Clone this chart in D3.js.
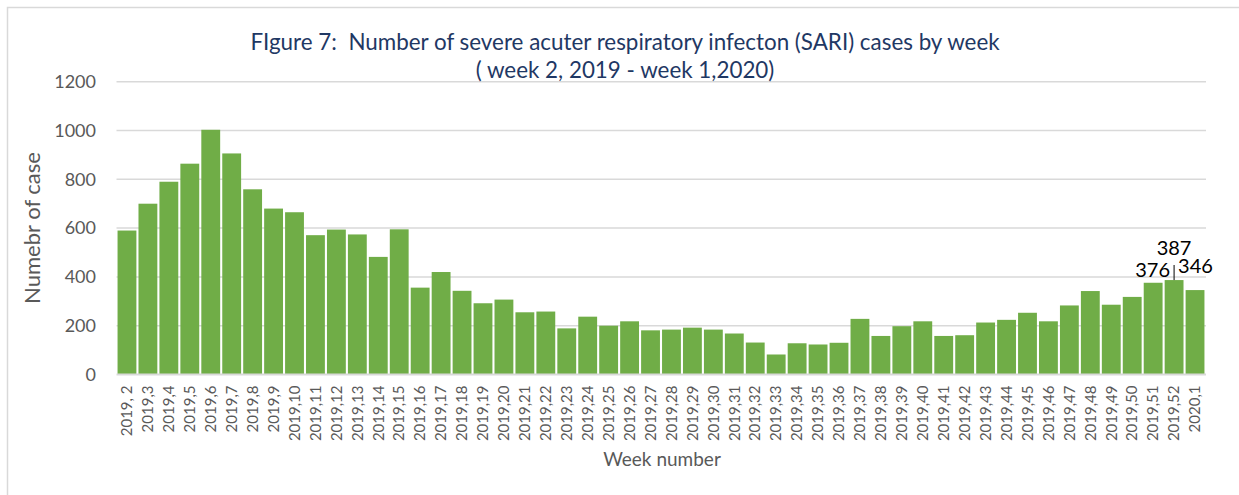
<!DOCTYPE html>
<html>
<head>
<meta charset="utf-8">
<script src="https://cdn.jsdelivr.net/npm/d3@7"></script>
<style>
    body { margin: 0; background: #fff; }
    text { font-family: Lato, "Open Sans", sans-serif; }
</style>
</head>
<body>
<script>
// week labels as printed under the bars
let weeks = ['2019, 2', '2019,3', '2019,4', '2019,5', '2019,6', '2019,7', '2019,8', '2019,9',
    '2019,10', '2019,11', '2019,12', '2019,13', '2019,14', '2019,15', '2019,16', '2019,17',
    '2019,18', '2019,19', '2019,20', '2019,21', '2019,22', '2019,23', '2019,24', '2019,25',
    '2019,26', '2019,27', '2019,28', '2019,29', '2019,30', '2019,31', '2019,32', '2019,33',
    '2019,34', '2019,35', '2019,36', '2019,37', '2019,38', '2019,39', '2019,40', '2019,41',
    '2019,42', '2019,43', '2019,44', '2019,45', '2019,46', '2019,47', '2019,48', '2019,49',
    '2019,50', '2019,51', '2019,52', '2020,1']
let cases = [590, 700, 790, 864, 1003, 906, 759, 680,
    665, 571, 594, 574, 482, 595, 356, 420,
    343, 292, 307, 255, 258, 189, 237, 200,
    218, 181, 184, 192, 184, 168, 131, 82,
    128, 123, 130, 228, 158, 198, 218, 158,
    161, 213, 224, 253, 218, 283, 342, 286,
    318, 376, 387, 346]
let yTicks = [0, 200, 400, 600, 800, 1000, 1200]
let labelled = ['2019,51', '2019,52', '2020,1']

{
    let width = 1239
    let height = 495
    let svg = d3.select('body').append('svg')
        .attr('width', width)
        .attr('height', height)

    // outer frame (right / bottom fall outside the picture)
    svg.append('rect')
        .attr('x', 7.5).attr('y', 7.5)
        .attr('width', 1260).attr('height', 520)
        .attr('fill', 'none')
        .attr('stroke', '#d9d9d9')
        .attr('stroke-width', 1.5)

    let x = d3.scaleBand()
        .domain(weeks)
        .range([116.5, 1205.5])
        .paddingInner(0.1)
        .paddingOuter(0.05)
    let y = d3.scaleLinear()
        .domain([0, 1200])
        .range([374.5, 81.7])

    // grid
    svg.append('g').selectAll('line').data(yTicks.filter(d => d > 0))
        .enter()
        .append('line')
        .attr('x1', 116.5).attr('x2', 1206)
        .attr('y1', d => y(d)).attr('y2', d => y(d))
        .attr('stroke', '#d9d9d9')
        .attr('stroke-width', 1.5)

    // bars
    svg.append('g').selectAll('rect').data(cases)
        .enter()
        .append('rect')
        .attr('x', (d, i) => x(weeks[i]))
        .attr('y', d => y(d))
        .attr('width', x.bandwidth())
        .attr('height', d => y(0) - y(d))
        .attr('fill', '#70ad47')

    // baseline
    svg.append('line')
        .attr('x1', 116.5).attr('x2', 1206)
        .attr('y1', y(0)).attr('y2', y(0))
        .attr('stroke', '#d9d9d9')
        .attr('stroke-width', 2)

    // y axis
    let yAxis = svg.append('g')
        .attr('transform', 'translate(108,0)')
        .call(d3.axisLeft(y).tickValues(yTicks).tickFormat(d3.format('d')).tickSize(0).tickPadding(12))
    yAxis.select('.domain').remove()
    yAxis.selectAll('text')
        .attr('fill', '#595959')
        .style('font-size', '18px')
        .style('font-family', 'Lato, sans-serif')

    // x axis
    let xAxis = svg.append('g')
        .attr('transform', 'translate(0,' + y(0) + ')')
        .call(d3.axisBottom(x).tickSize(0))
    xAxis.select('.domain').remove()
    xAxis.selectAll('text')
        .attr('fill', '#595959')
        .style('font-size', '15px')
        .style('font-family', 'Lato, sans-serif')
        .attr('text-anchor', 'end')
        .attr('transform', 'rotate(-90)')
        .attr('x', -11)
        .attr('y', 0)
        .attr('dy', '0.35em')

    // data labels on the last three bars
    let lab = svg.append('g')
        .style('font-size', '20px')
        .attr('fill', '#000')
    let c52 = x('2019,52') + x.bandwidth() / 2
    lab.append('text')
        .attr('x', c52 - 4).attr('y', y(cases[weeks.indexOf(labelled[0])]) - 6)
        .attr('text-anchor', 'end')
        .text(cases[weeks.indexOf(labelled[0])])
    lab.append('text')
        .attr('x', c52).attr('y', 255)
        .attr('text-anchor', 'middle')
        .text(cases[weeks.indexOf(labelled[1])])
    lab.append('text')
        .attr('x', c52 + 4).attr('y', y(cases[weeks.indexOf(labelled[2])]) - 17)
        .attr('text-anchor', 'start')
        .text(cases[weeks.indexOf(labelled[2])])
    svg.append('line')
        .attr('x1', c52).attr('x2', c52)
        .attr('y1', 265).attr('y2', y(cases[weeks.indexOf(labelled[1])]))
        .attr('stroke', '#000')
        .attr('stroke-width', 1)

    // titles
    svg.append('text')
        .attr('x', 625).attr('y', 50)
        .attr('text-anchor', 'middle')
        .attr('fill', '#1f3864')
        .style('font-size', '22.4px')
        .attr('xml:space', 'preserve')
        .text('FIgure 7:  Number of severe acuter respiratory infecton (SARI) cases by week')
    svg.append('text')
        .attr('x', 625).attr('y', 78)
        .attr('text-anchor', 'middle')
        .attr('fill', '#1f3864')
        .style('font-size', '22.4px')
        .text('( week 2, 2019 - week 1,2020)')
    svg.append('text')
        .attr('transform', 'translate(40,228) rotate(-90)')
        .attr('text-anchor', 'middle')
        .attr('fill', '#595959')
        .style('font-size', '22px')
        .text('Numebr of case')
    svg.append('text')
        .attr('x', 662).attr('y', 466)
        .attr('text-anchor', 'middle')
        .attr('fill', '#595959')
        .style('font-size', '19px')
        .text('Week number')
}
</script>
</body>
</html>
